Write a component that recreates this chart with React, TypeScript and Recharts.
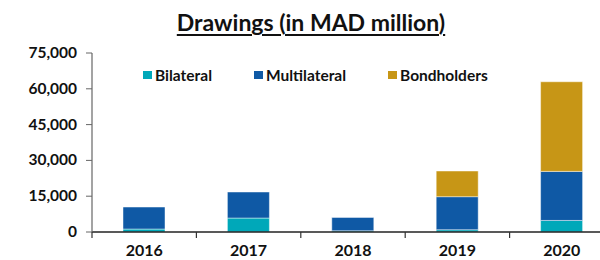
import React from 'react';
import { BarChart, Bar, XAxis, YAxis, Legend } from 'recharts';

const years = ['2016', '2017', '2018', '2019', '2020'];
const bilateral = [1250, 5850, 500, 950, 4850];
const multilateral = [9200, 10900, 5600, 13850, 20550];
const bondholders = [0, 0, 0, 10750, 37550];
const yTicks = [0, 15000, 30000, 45000, 60000, 75000];

const seriesNames = ['Bilateral', 'Multilateral', 'Bondholders'];
const seriesKeys = ['bilateral', 'multilateral', 'bondholders'];
const seriesColors = ['#00A8B9', '#0F59A5', '#C79616'];

const data = years.map((year, i) => ({
  year,
  bilateral: bilateral[i],
  multilateral: multilateral[i],
  bondholders: bondholders[i],
}));

const FONT = 'Lato, "DejaVu Sans", sans-serif';

const fmt = (v: number) => v.toLocaleString('en-US');

const XTick = (props: any) => {
  const { x, y, payload } = props;
  const off = payload && typeof payload.offset === 'number' ? payload.offset : 0;
  return (
    <g>
      <line x1={x - off} x2={x - off} y1={y} y2={y + 6} stroke="#333" strokeWidth={1.2} />
      <text x={x} y={y + 24} textAnchor="middle" fontFamily={FONT} fontWeight={700} fontSize={16} fill="#111">
        {payload.value}
      </text>
    </g>
  );
};

const YTick = (props: any) => {
  const { x, y, payload } = props;
  return (
    <text x={x} y={y + 5} textAnchor="end" fontFamily={FONT} fontWeight={700} fontSize={15.5} fill="#111">
      {fmt(payload.value)}
    </text>
  );
};

const renderLegend = () => (
  <div style={{ display: 'flex', flexDirection: 'row', gap: 42, fontFamily: FONT, fontWeight: 700, fontSize: 15.5, color: '#111' }}>
    {seriesNames.map((name, i) => (
      <div key={name} style={{ display: 'flex', alignItems: 'center' }}>
        <span style={{ display: 'inline-block', width: 9, height: 8, background: seriesColors[i], marginRight: 3 }} />
        <span>{name}</span>
      </div>
    ))}
  </div>
);

export default function App() {
  return (
    <div style={{ position: 'absolute', left: 0, top: 0, width: 600, height: 260, overflow: 'hidden', background: '#fff' }}>
      <div
        style={{
          position: 'absolute',
          left: 0,
          width: 622,
          top: 8,
          textAlign: 'center',
          fontFamily: FONT,
          fontWeight: 700,
          fontSize: 23,
          color: '#111',
          textDecoration: 'underline',
          textDecorationThickness: 2,
          textUnderlineOffset: 3,
          zIndex: 2,
        }}
      >
        Drawings (in MAD million)
      </div>
      <BarChart
        width={620}
        height={260}
        data={data}
        margin={{ top: 53, right: 6, bottom: 0, left: 0 }}
        barSize={42}
      >
        <XAxis
          dataKey="year"
          height={28}
          tickLine={false}
          tickSize={0}
          tickMargin={0}
          axisLine={{ stroke: '#222', strokeWidth: 1.3 }}
          tick={<XTick />}
          interval={0}
        />
        <YAxis
          width={92}
          domain={[0, 75000]}
          ticks={yTicks}
          tickLine={{ stroke: '#666' }}
          tickSize={6}
          tickMargin={9}
          axisLine={{ stroke: '#666', strokeWidth: 1.2 }}
          tick={<YTick />}
          interval={0}
        />
        <Legend
          layout="horizontal"
          verticalAlign="middle"
          align="center"
          wrapperStyle={{ top: 66, left: 143, width: 420, margin: 0 }}
          content={renderLegend}
        />
        {seriesKeys.map((k, i) => (
          <Bar
            key={k}
            dataKey={k}
            name={seriesNames[i]}
            stackId="a"
            fill={seriesColors[i]}
            stroke="rgba(255,255,255,0.45)"
            strokeWidth={1}
            isAnimationActive={false}
          />
        ))}
      </BarChart>
    </div>
  );
}
